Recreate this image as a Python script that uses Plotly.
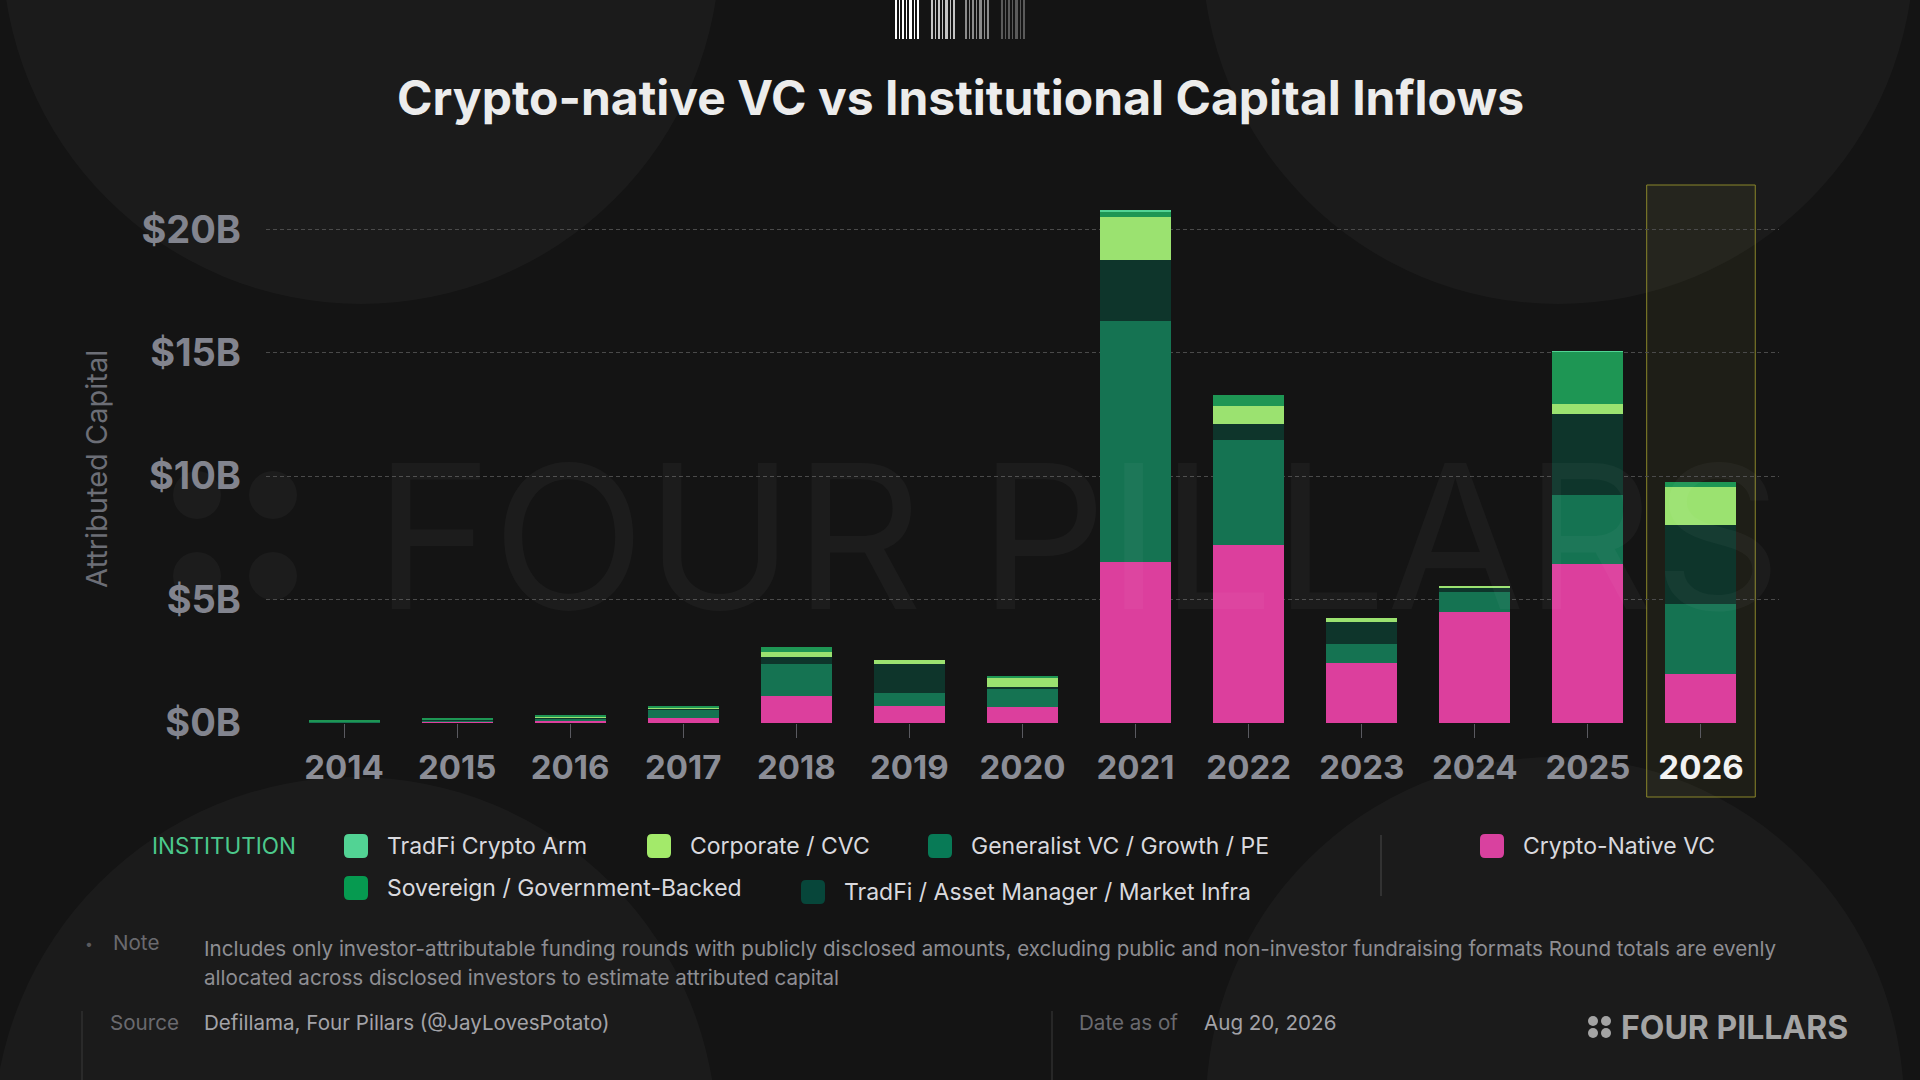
import plotly.graph_objects as go

# ---- data (USD billions, attributed capital per year) ----
years = [2014, 2015, 2016, 2017, 2018, 2019, 2020, 2021, 2022, 2023, 2024, 2025, 2026]
year_labels = [str(y) for y in years]

crypto_native_vc = [0.03, 0.05, 0.10, 0.20, 1.10, 0.67, 0.63, 6.51, 7.20, 2.45, 4.49, 6.43, 2.00]
generalist_vc = [0.03, 0.06, 0.08, 0.36, 1.30, 0.55, 0.77, 9.77, 4.26, 0.74, 0.81, 2.81, 2.81]
tradfi_asset_mgr = [0.00, 0.02, 0.05, 0.02, 0.26, 1.18, 0.05, 2.49, 0.66, 0.91, 0.15, 3.29, 3.20]
corporate_cvc = [0.02, 0.03, 0.03, 0.04, 0.23, 0.17, 0.40, 1.73, 0.72, 0.14, 0.10, 0.38, 1.54]
sovereign = [0.05, 0.05, 0.04, 0.05, 0.18, 0.00, 0.06, 0.24, 0.43, 0.00, 0.00, 2.13, 0.21]
tradfi_crypto_arm = [0.00, 0.00, 0.00, 0.00, 0.00, 0.00, 0.00, 0.02, 0.00, 0.00, 0.00, 0.02, 0.00]

y_ticks = [0, 5, 10, 15, 20]
y_tick_labels = ["$0B", "$5B", "$10B", "$15B", "$20B"]

note_lines = [
    "Includes only investor-attributable funding rounds with publicly disclosed amounts, "
    "excluding public and non-investor fundraising formats Round totals are evenly",
    "allocated across disclosed investors to estimate attributed capital",
]

# stacking order, bottom -> top
series = [
    ("Crypto-Native VC", crypto_native_vc),
    ("Generalist VC / Growth / PE", generalist_vc),
    ("TradFi / Asset Manager / Market Infra", tradfi_asset_mgr),
    ("Corporate / CVC", corporate_cvc),
    ("Sovereign / Government-Backed", sovereign),
    ("TradFi Crypto Arm", tradfi_crypto_arm),
]

bar_colors = {
    "Crypto-Native VC": "#dc3f9d",
    "Generalist VC / Growth / PE": "#157352",
    "TradFi / Asset Manager / Market Infra": "#0e352b",
    "Corporate / CVC": "#9be270",
    "Sovereign / Government-Backed": "#1e9654",
    "TradFi Crypto Arm": "#52d394",
}
swatch_colors = {
    "Crypto-Native VC": "#d9419f",
    "Generalist VC / Growth / PE": "#087a56",
    "TradFi / Asset Manager / Market Infra": "#07463a",
    "Corporate / CVC": "#a3ea6a",
    "Sovereign / Government-Backed": "#069a50",
    "TradFi Crypto Arm": "#52d394",
}

FONT = "Inter"
BG = "#141414"

# ---- pixel geometry of the plot area ----
W_FIG, H_FIG = 1920, 1080
PL, PR, PT, PB = 266, 1779, 180, 723
PW, PH = PR - PL, PB - PT
X_RANGE = [2013.31, 2026.69]
Y_RANGE = [0, 22.0]


def fx(px):
    return (px - PL) / PW


def fy(py):
    return (PB - py) / PH


def dx(px):
    return X_RANGE[0] + (px - PL) / PW * (X_RANGE[1] - X_RANGE[0])


def dy(py):
    return (PB - py) / PH * (Y_RANGE[1] - Y_RANGE[0])


fig = go.Figure()

# faint watermark behind the bars
fig.add_trace(go.Scatter(
    x=[dx(1078)], y=[dy(559)], mode="text", text=["FOUR PILLARS"],
    textfont=dict(family=FONT, size=200, color="rgba(255,255,255,0.035)"),
    hoverinfo="skip", showlegend=False,
))

for name, vals in series:
    fig.add_trace(go.Bar(
        x=years, y=vals, name=name,
        marker=dict(color=bar_colors[name], line=dict(width=0)),
        showlegend=False,
        hovertemplate="%{x}<br>" + name + ": $%{y:.2f}B<extra></extra>",
    ))

shapes = []

# background circles
for cx, cy, r in [(361, -55, 359), (1558, -52, 356), (355, 1139, 362), (1555, 1106, 349)]:
    shapes.append(dict(type="circle", xref="paper", yref="paper", layer="below",
                       x0=fx(cx - r), x1=fx(cx + r), y0=fy(cy + r), y1=fy(cy - r),
                       fillcolor="rgba(255,255,255,0.032)", line=dict(width=0)))

# watermark dots
for cx, cy in [(197, 495), (273, 495), (197, 576), (273, 576)]:
    r = 24
    shapes.append(dict(type="circle", xref="paper", yref="paper", layer="below",
                       x0=fx(cx - r), x1=fx(cx + r), y0=fy(cy + r), y1=fy(cy - r),
                       fillcolor="rgba(255,255,255,0.035)", line=dict(width=0)))

# highlight box for the current year
shapes.append(dict(type="rect", xref="x", yref="paper", layer="below",
                   x0=years[-1] - 0.48, x1=years[-1] + 0.48, y0=fy(797), y1=fy(185),
                   fillcolor="rgba(220,210,90,0.055)", line=dict(color="#8a872a", width=1)))

# barcode mark at the top
bar_pattern = [(0, 2), (4, 5), (7, 9), (11, 12), (14, 17), (19, 20), (22, 24)]
for gx, col in [(895, "#ffffff"), (931, "#c4c4c4"), (965, "#8c8c8c"), (1001, "#5a5a5a")]:
    for a, b in bar_pattern:
        shapes.append(dict(type="rect", xref="paper", yref="paper",
                           x0=fx(gx + a), x1=fx(gx + b), y0=fy(39), y1=fy(0),
                           fillcolor=col, line=dict(width=0)))


def rounded_square(cx, cy, s=24, r=5):
    x0, x1 = fx(cx - s / 2), fx(cx + s / 2)
    y0, y1 = fy(cy + s / 2), fy(cy - s / 2)
    rx, ry = r / PW, r / PH
    return (f"M {x0 + rx},{y0} L {x1 - rx},{y0} Q {x1},{y0} {x1},{y0 + ry} "
            f"L {x1},{y1 - ry} Q {x1},{y1} {x1 - rx},{y1} L {x0 + rx},{y1} "
            f"Q {x0},{y1} {x0},{y1 - ry} L {x0},{y0 + ry} Q {x0},{y0} {x0 + rx},{y0} Z")


annotations = []

# custom legend
legend_pos = {
    "TradFi Crypto Arm": (356, 846),
    "Corporate / CVC": (659, 846),
    "Generalist VC / Growth / PE": (940, 846),
    "Crypto-Native VC": (1492, 846),
    "Sovereign / Government-Backed": (356, 888),
    "TradFi / Asset Manager / Market Infra": (813, 892),
}
for name, _ in series:
    cx, cy = legend_pos[name]
    shapes.append(dict(type="path", xref="paper", yref="paper", path=rounded_square(cx, cy),
                       fillcolor=swatch_colors[name], line=dict(width=0)))
    annotations.append(dict(xref="paper", yref="paper", x=fx(cx + 29), y=fy(cy),
                            xanchor="left", yanchor="middle", showarrow=False, text=name,
                            font=dict(family=FONT, size=23, color="#d9d9de")))

annotations.append(dict(xref="paper", yref="paper", x=fx(150), y=fy(845), xanchor="left",
                        yanchor="middle", showarrow=False, text="INSTITUTION",
                        font=dict(family=FONT, size=22.5, color="#4cc98c")))

# separator lines
shapes.append(dict(type="line", xref="paper", yref="paper", x0=fx(1381), x1=fx(1381),
                   y0=fy(896), y1=fy(835), line=dict(color="#4a4a4a", width=1)))
for lx in [82, 1052]:
    shapes.append(dict(type="line", xref="paper", yref="paper", x0=fx(lx), x1=fx(lx),
                       y0=fy(1080), y1=fy(1011), line=dict(color="#3a3a3a", width=1)))

# title
annotations.append(dict(xref="paper", yref="paper", x=fx(960), y=fy(98), xanchor="center",
                        yanchor="middle", showarrow=False,
                        text="<b>Crypto-native VC vs Institutional Capital Inflows</b>",
                        font=dict(family=FONT, size=48, color="#ececec")))

# y axis title
annotations.append(dict(xref="paper", yref="paper", x=fx(96), y=fy(469), xanchor="center",
                        yanchor="middle", showarrow=False, textangle=-90,
                        text="Attributed Capital",
                        font=dict(family=FONT, size=29, color="#6c6e76")))

# footer
footer_small = dict(family=FONT, size=20.6, color="#6a6a6f")
footer_value = dict(family=FONT, size=20.6, color="#a3a3a8")
annotations += [
    dict(xref="paper", yref="paper", x=fx(89), y=fy(943), xanchor="center", yanchor="middle",
         showarrow=False, text="•", font=dict(family=FONT, size=14, color="#5a5a5e")),
    dict(xref="paper", yref="paper", x=fx(111), y=fy(942), xanchor="left", yanchor="middle",
         showarrow=False, text="Note", font=footer_small),
    dict(xref="paper", yref="paper", x=fx(108), y=fy(1022), xanchor="left", yanchor="middle",
         showarrow=False, text="Source", font=footer_small),
    dict(xref="paper", yref="paper", x=fx(202), y=fy(1022), xanchor="left", yanchor="middle",
         showarrow=False, text="Defillama, Four Pillars (@JayLovesPotato)", font=footer_value),
    dict(xref="paper", yref="paper", x=fx(1077), y=fy(1022), xanchor="left", yanchor="middle",
         showarrow=False, text="Date as of", font=footer_small),
    dict(xref="paper", yref="paper", x=fx(1202), y=fy(1022), xanchor="left", yanchor="middle",
         showarrow=False, text="Aug 20, 2026", font=footer_value),
    dict(xref="paper", yref="paper", x=fx(1619), y=fy(1027), xanchor="left", yanchor="middle",
         showarrow=False, text="<b>FOUR PILLARS</b>",
         font=dict(family=FONT, size=32, color="#a4a4a4")),
]
for line, ly in zip(note_lines, [948, 977]):
    annotations.append(dict(xref="paper", yref="paper", x=fx(202), y=fy(ly), xanchor="left",
                            yanchor="middle", showarrow=False, text=line,
                            font=dict(family=FONT, size=20.6, color="#8e8e93")))

for cx, cy in [(1593, 1021), (1606, 1021), (1593, 1033), (1606, 1033)]:
    r = 5
    shapes.append(dict(type="circle", xref="paper", yref="paper",
                       x0=fx(cx - r), x1=fx(cx + r), y0=fy(cy + r), y1=fy(cy - r),
                       fillcolor="#a4a4a4", line=dict(width=0)))

tick_text = [f"<span style='color:#f2f2f2'>{lab}</span>" if lab == year_labels[-1] else lab
             for lab in year_labels]

fig.update_layout(
    width=W_FIG, height=H_FIG,
    margin=dict(l=PL, r=W_FIG - PR, t=PT, b=H_FIG - PB, pad=0),
    paper_bgcolor=BG, plot_bgcolor="rgba(0,0,0,0)",
    barmode="stack", bargap=0.372,
    showlegend=False,
    font=dict(family=FONT),
    shapes=shapes, annotations=annotations,
    xaxis=dict(range=X_RANGE, tickvals=years, ticktext=tick_text, showgrid=False,
               zeroline=False, showline=False, ticks="outside", ticklen=14,
               tickcolor="#5a5a60", tickwidth=1, ticklabelstandoff=1,
               tickfont=dict(family=FONT, size=33, color="#8b8d96", weight="bold")),
    yaxis=dict(range=Y_RANGE, tickvals=y_ticks, ticktext=y_tick_labels, showgrid=True,
               gridcolor="#4a4a4a", griddash="4px,3px", gridwidth=1, zeroline=False,
               showline=False, ticks="", ticklabelstandoff=24,
               tickfont=dict(family=FONT, size=38, color="#82848e", weight="bold")),
)

fig.write_html("out.html", config={"displayModeBar": False},
               post_script="document.body.style.margin='0';document.body.style.background='#141414';")
